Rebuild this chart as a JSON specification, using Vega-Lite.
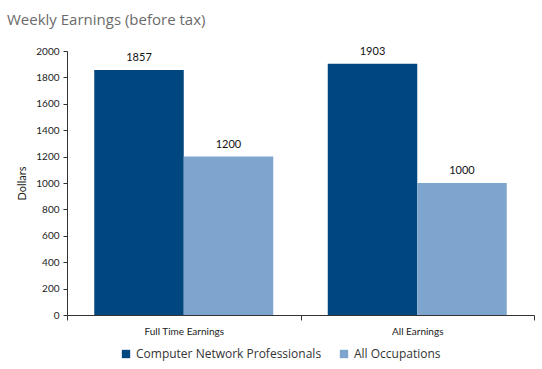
{
  "$schema": "https://vega.github.io/schema/vega-lite/v6.json",
  "width": 467,
  "height": 264,
  "autosize": {"type": "none"},
  "padding": {"left": 67, "top": 51, "right": 8, "bottom": 54},
  "background": "white",
  "title": {
    "text": "Weekly Earnings (before tax)",
    "anchor": "start",
    "frame": "group",
    "dx": -60,
    "dy": -14,
    "font": "Open Sans",
    "fontSize": 15,
    "fontWeight": "normal",
    "color": "#6b6b6b"
  },
  "data": {
    "values": [
      {"category": "Full Time Earnings", "series": "Computer Network Professionals", "value": 1857},
      {"category": "Full Time Earnings", "series": "All Occupations", "value": 1200},
      {"category": "All Earnings", "series": "Computer Network Professionals", "value": 1903},
      {"category": "All Earnings", "series": "All Occupations", "value": 1000}
    ]
  },
  "encoding": {
    "x": {
      "field": "category",
      "type": "nominal",
      "sort": ["Full Time Earnings", "All Earnings"],
      "scale": {"paddingInner": 0, "paddingOuter": 0},
      "axis": {
        "title": null,
        "labelAngle": 0,
        "tickBand": "extent",
        "domainColor": "#333",
        "tickColor": "#333",
        "tickSize": 5,
        "labelFont": "Lato",
        "labelFontSize": 10,
        "labelColor": "#222",
        "labelPadding": 6
      }
    },
    "xOffset": {
      "field": "series",
      "type": "nominal",
      "sort": ["Computer Network Professionals", "All Occupations"],
      "scale": {"paddingInner": 0, "paddingOuter": 0.3045}
    },
    "y": {
      "field": "value",
      "type": "quantitative",
      "scale": {"domain": [0, 2000], "nice": false},
      "axis": {
        "title": "Dollars",
        "titleFont": "Lato",
        "titleFontSize": 11,
        "titleFontWeight": "normal",
        "titleColor": "#222",
        "titlePadding": 8,
        "format": "d",
        "values": [0, 200, 400, 600, 800, 1000, 1200, 1400, 1600, 1800, 2000],
        "grid": false,
        "domainColor": "#333",
        "tickColor": "#333",
        "tickSize": 4,
        "labelFont": "Lato",
        "labelFontSize": 10,
        "labelColor": "#222",
        "labelPadding": 4
      }
    }
  },
  "layer": [
    {
      "mark": {"type": "bar"},
      "encoding": {
        "color": {
          "field": "series",
          "type": "nominal",
          "sort": ["Computer Network Professionals", "All Occupations"],
          "scale": {"range": ["#00467f", "#7da5cd"]},
          "legend": {
            "title": null,
            "orient": "none",
            "legendX": 53,
            "legendY": 297,
            "direction": "horizontal",
            "symbolType": "square",
            "symbolSize": 70,
            "labelFont": "Open Sans",
            "labelFontSize": 12,
            "labelColor": "#333",
            "labelLimit": 0,
            "columnPadding": 16
          }
        }
      }
    },
    {
      "mark": {"type": "text", "baseline": "bottom", "dy": -7, "font": "Lato", "fontSize": 11, "color": "#111"},
      "encoding": {
        "text": {"field": "value", "type": "quantitative"}
      }
    }
  ],
  "config": {"view": {"stroke": null}}
}
